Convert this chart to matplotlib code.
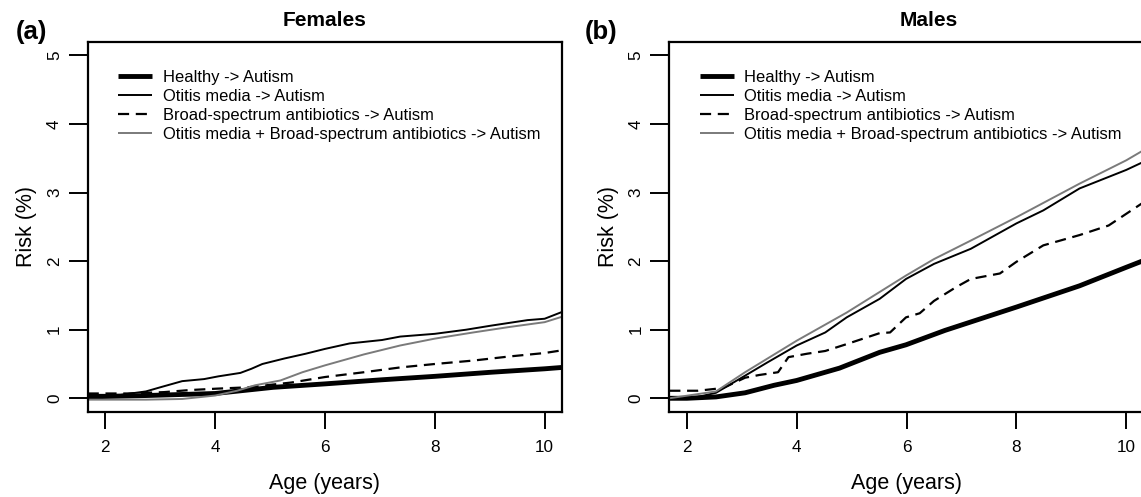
import matplotlib
matplotlib.use("Agg")
import matplotlib.pyplot as plt

plt.rcParams['font.family'] = ['Liberation Sans', 'DejaVu Sans']

# ---------------- data ----------------
panel_titles = ["Females", "Males"]
panel_tags = ["(a)", "(b)"]
series_labels = ["Healthy -> Autism", "Otitis media -> Autism",
                 "Broad-spectrum antibiotics -> Autism",
                 "Otitis media + Broad-spectrum antibiotics -> Autism"]
x_ticks = [2, 4, 6, 8, 10]
y_ticks = [0, 1, 2, 3, 4, 5]

# Females
f_healthy_age = [1.68, 2.74, 4.0, 5.06, 6.0, 7.04, 8.0, 9.03, 10.0, 10.32]
f_healthy_val = [0.02, 0.04, 0.07, 0.16, 0.21, 0.27, 0.32, 0.38, 0.43, 0.45]
f_otitis_age = [1.68, 2.28, 2.74, 3.0, 3.4, 3.8, 4.06, 4.46, 4.66, 4.86, 5.26, 5.65,
                6.0, 6.45, 7.04, 7.37, 8.0, 8.57, 9.03, 9.69, 10.0, 10.32]
f_otitis_val = [0.05, 0.05, 0.10, 0.16, 0.25, 0.28, 0.32, 0.37, 0.43, 0.50, 0.58, 0.65,
                0.72, 0.80, 0.85, 0.90, 0.94, 1.00, 1.06, 1.14, 1.16, 1.26]
f_broad_age = [1.68, 2.41, 3.07, 3.54, 4.02, 4.59, 5.39, 6.0, 6.71, 7.37, 8.0, 8.7,
               9.36, 10.0, 10.32]
f_broad_val = [0.07, 0.07, 0.09, 0.12, 0.14, 0.16, 0.23, 0.31, 0.38, 0.45, 0.50, 0.55,
               0.61, 0.66, 0.70]
f_combo_age = [1.68, 2.74, 3.4, 4.0, 4.4, 4.73, 5.19, 5.59, 6.0, 6.71, 7.37, 8.0, 8.7,
               9.36, 10.0, 10.32]
f_combo_val = [-0.02, -0.02, -0.01, 0.04, 0.11, 0.19, 0.26, 0.38, 0.48, 0.64, 0.77,
               0.87, 0.96, 1.04, 1.11, 1.19]

# Males
m_healthy_age = [1.68, 2.0, 2.53, 3.06, 3.59, 4.0, 4.78, 5.51, 5.99, 6.70, 8.0, 9.15,
                 10.0, 10.32]
m_healthy_val = [0.0, 0.0, 0.02, 0.08, 0.19, 0.26, 0.44, 0.67, 0.78, 0.99, 1.33, 1.64,
                 1.91, 2.01]
m_otitis_age = [1.68, 2.2, 2.53, 3.06, 3.46, 4.0, 4.52, 4.91, 5.51, 5.99, 6.5, 7.17,
                8.0, 8.49, 9.15, 10.0, 10.32]
m_otitis_val = [0.0, 0.02, 0.08, 0.33, 0.52, 0.77, 0.96, 1.18, 1.45, 1.74, 1.96, 2.18,
                2.55, 2.74, 3.06, 3.33, 3.45]
m_broad_age = [1.68, 2.2, 2.66, 3.06, 3.32, 3.66, 3.85, 4.19, 4.52, 4.91, 5.51, 5.7,
               5.99, 6.24, 6.5, 6.9, 7.17, 7.7, 8.0, 8.49, 9.15, 9.68, 10.0, 10.32]
m_broad_val = [0.11, 0.11, 0.15, 0.30, 0.34, 0.38, 0.60, 0.65, 0.69, 0.79, 0.95, 0.96,
               1.18, 1.24, 1.42, 1.62, 1.74, 1.82, 1.99, 2.23, 2.38, 2.52, 2.69, 2.86]
m_combo_age = [1.68, 2.53, 3.06, 4.0, 4.91, 5.99, 6.5, 7.17, 8.0, 9.15, 10.0, 10.32]
m_combo_val = [0.0, 0.10, 0.38, 0.84, 1.25, 1.79, 2.03, 2.30, 2.64, 3.13, 3.47, 3.62]

panels = [
    [(f_healthy_age, f_healthy_val), (f_otitis_age, f_otitis_val),
     (f_broad_age, f_broad_val), (f_combo_age, f_combo_val)],
    [(m_healthy_age, m_healthy_val), (m_otitis_age, m_otitis_val),
     (m_broad_age, m_broad_val), (m_combo_age, m_combo_val)],
]

# ---------------- styling ----------------
W, H = 1141, 497
fig = plt.figure(figsize=(W / 100, H / 100), dpi=100)

styles = [
    dict(color="black", lw=3.5, ls="-"),
    dict(color="black", lw=1.4, ls="-"),
    dict(color="black", lw=1.6, ls=(0, (5, 3))),
    dict(color="#7a7a7a", lw=1.4, ls="-"),
]

ax_left_px = [87.7, 669.3]
ax_w_px = 474.5
ax_top_px, ax_bot_px = 41.7, 412.0
title_x_px = [325, 929]
tag_x_px = [31, 601]

for i in range(2):
    ax = fig.add_axes([ax_left_px[i] / W, 1 - ax_bot_px / H,
                       ax_w_px / W, (ax_bot_px - ax_top_px) / H])
    for (xs, ys), st, lab in zip(panels[i], styles, series_labels):
        ax.plot(xs, ys, label=lab, solid_capstyle="butt", **st)
    ax.set_xlim(1.68, 10.32)
    ax.set_ylim(-0.2, 5.2)
    ax.set_xticks(x_ticks)
    ax.set_yticks(y_ticks)
    ax.set_yticklabels([str(v) for v in y_ticks], rotation=90, va="center")
    ax.tick_params(axis="x", length=12, width=1.4, pad=8, labelsize=12.3,
                   direction="out")
    ax.tick_params(axis="y", length=13.5, width=1.4, pad=5, labelsize=12.3,
                   direction="out")
    for sp in ax.spines.values():
        sp.set_linewidth(1.6)
    ax.set_xlabel("Age (years)", fontsize=15.5, labelpad=13)
    ax.set_ylabel("Risk (%)", fontsize=15.5, labelpad=7)
    leg = ax.legend(loc="upper left", bbox_to_anchor=(0.064, 0.924),
                    frameon=False, fontsize=11.9, handlelength=2.05,
                    handletextpad=0.65, labelspacing=0.25, borderpad=0,
                    borderaxespad=0)
    fig.text(title_x_px[i] / W, 1 - 20 / H, panel_titles[i], ha="center",
             va="center", fontsize=15, fontweight="bold")
    fig.text(tag_x_px[i] / W, 1 - 32 / H, panel_tags[i], ha="center",
             va="center", fontsize=18.5, fontweight="bold")

fig.savefig("out.png", dpi=100)
